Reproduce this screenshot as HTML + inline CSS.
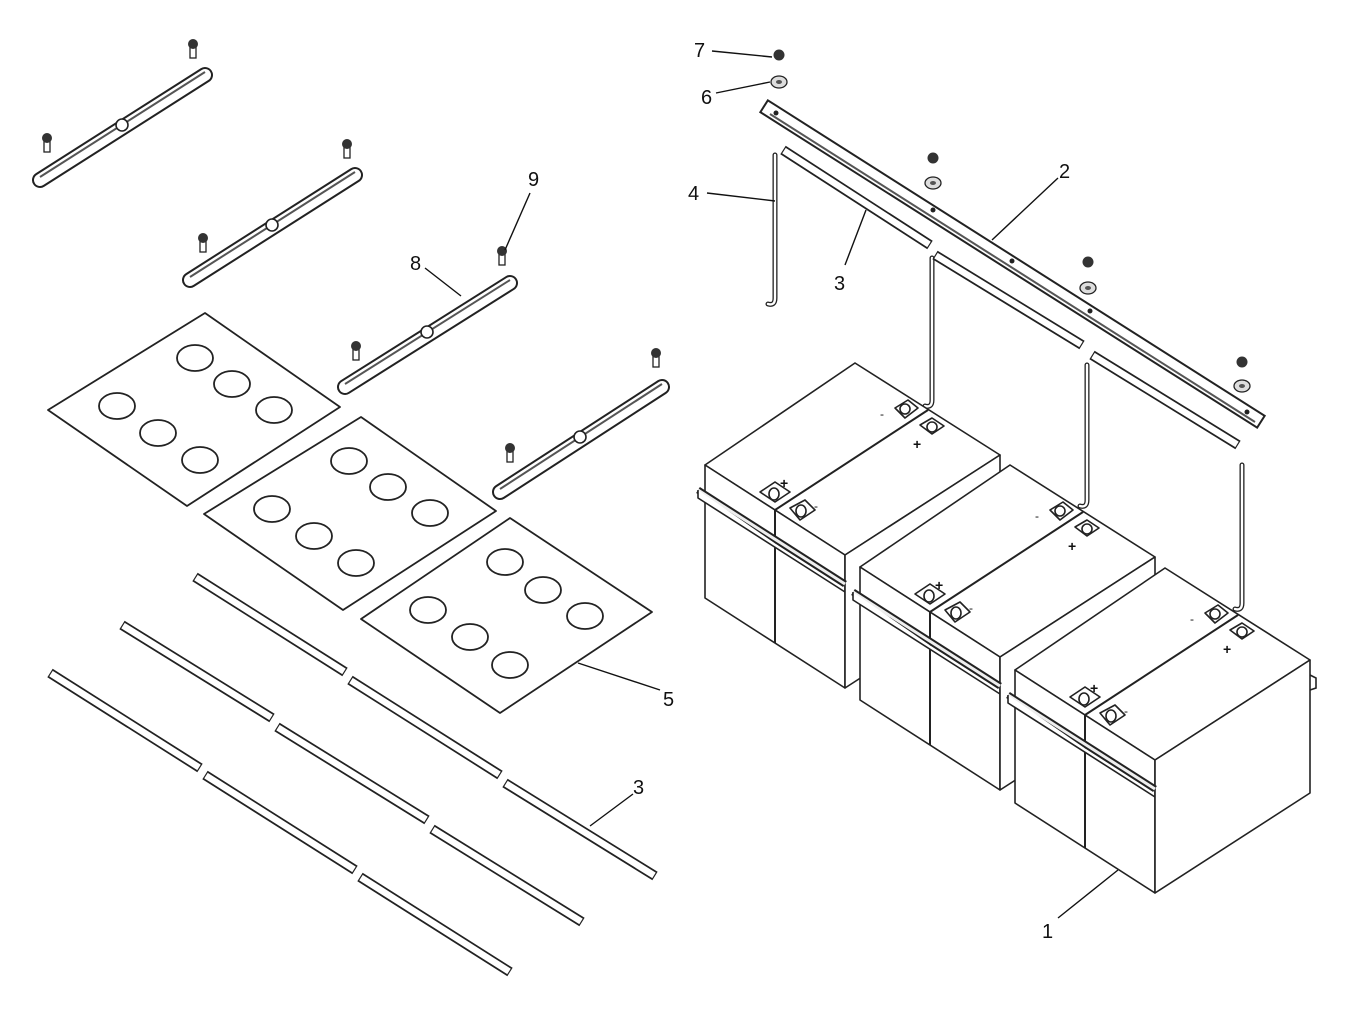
<!DOCTYPE html>
<html><head><meta charset="utf-8"><style>
html,body{margin:0;padding:0;background:#fff;}
svg{display:block;}
text{font-family:"Liberation Sans",sans-serif;font-size:20px;fill:#111;}
</style></head><body>
<svg width="1365" height="1022" viewBox="0 0 1365 1022" xmlns="http://www.w3.org/2000/svg">
<defs>
<g id="bolt"><rect x="-3" y="-2" width="6" height="12" fill="#fff" stroke="#222" stroke-width="1.3"/><circle cx="0" cy="-4" r="5" fill="#333"/></g>
<g id="nut"><circle cx="0" cy="0" r="5.5" fill="#333"/></g>
<g id="washer"><ellipse cx="0" cy="0" rx="8" ry="6" fill="#ddd" stroke="#222" stroke-width="1.3"/><ellipse cx="0" cy="0" rx="3" ry="2" fill="#555"/></g>
<g id="pair" fill="#fff" stroke="#222" stroke-width="1.6" stroke-linejoin="round">
  <!-- near corner (845,555) -->
  <path d="M845,555 L705,465 L855,363 L1000,455 Z"/>
  <path d="M705,465 L705,598 L845,688 L845,555 Z"/>
  <path d="M845,555 L845,688 L1000,588 L1000,455 Z"/>
  <path d="M775,510 L775,643" stroke-width="2"/>
  <path d="M775,510 L928,410" stroke-width="2"/>
  <path d="M698,490 L845,584" stroke-width="7"/>
  <path d="M698,490 L845,584" stroke="#eee" stroke-width="3"/>
  <path d="M698,490 L698,498 L845,592"/>
  <path d="M760,492 L775,482 L790,492 L775,502 Z"/>
  <ellipse cx="774" cy="494" rx="5" ry="6"/>
  <path d="M790,508 L805,500 L815,510 L800,520 Z"/>
  <ellipse cx="801" cy="511" rx="5" ry="6"/>
  <path d="M895,408 L908,400 L918,408 L905,418 Z"/>
  <ellipse cx="905" cy="409" rx="5" ry="5"/>
  <path d="M920,425 L932,418 L944,426 L932,434 Z"/>
  <ellipse cx="932" cy="427" rx="5" ry="5"/>
  <text x="780" y="488" style="font-size:14px;font-weight:bold" stroke="none" fill="#222">+</text>
  <text x="913" y="449" style="font-size:14px;font-weight:bold" stroke="none" fill="#222">+</text>
  <text x="814" y="510" style="font-size:12px" stroke="none" fill="#222">-</text>
  <text x="880" y="418" style="font-size:12px" stroke="none" fill="#222">-</text>
</g>
</defs>
<g fill="none" stroke="#222" stroke-width="1.6" stroke-linejoin="round">

<path d="M40,180 L205,75" stroke="#222" stroke-width="16" stroke-linecap="round"/>
<path d="M40,180 L205,75" stroke="#fff" stroke-width="12" stroke-linecap="round"/>
<path d="M40,177 L205,72" stroke="#555" stroke-width="2"/>
<path d="M190,280 L355,175" stroke="#222" stroke-width="16" stroke-linecap="round"/>
<path d="M190,280 L355,175" stroke="#fff" stroke-width="12" stroke-linecap="round"/>
<path d="M190,277 L355,172" stroke="#555" stroke-width="2"/>
<path d="M345,387 L510,283" stroke="#222" stroke-width="16" stroke-linecap="round"/>
<path d="M345,387 L510,283" stroke="#fff" stroke-width="12" stroke-linecap="round"/>
<path d="M345,384 L510,280" stroke="#555" stroke-width="2"/>
<path d="M500,492 L662,387" stroke="#222" stroke-width="16" stroke-linecap="round"/>
<path d="M500,492 L662,387" stroke="#fff" stroke-width="12" stroke-linecap="round"/>
<path d="M500,489 L662,384" stroke="#555" stroke-width="2"/>
<circle cx="122" cy="125" r="6" fill="#fff"/><circle cx="272" cy="225" r="6" fill="#fff"/>
<circle cx="427" cy="332" r="6" fill="#fff"/><circle cx="580" cy="437" r="6" fill="#fff"/>
</g>
<use href="#bolt" x="193" y="48"/><use href="#bolt" x="47" y="142"/>
<use href="#bolt" x="347" y="148"/><use href="#bolt" x="203" y="242"/>
<use href="#bolt" x="502" y="255"/><use href="#bolt" x="356" y="350"/>
<use href="#bolt" x="656" y="357"/><use href="#bolt" x="510" y="452"/>

<g fill="#fff" stroke="#222" stroke-width="1.8" stroke-linejoin="round">
<path d="M48,410 L205,313 L340,407 L187,506 Z"/>
<path d="M204,514 L361,417 L496,511 L343,610 Z"/>
<path d="M361,619 L510,518 L652,612 L500,713 Z"/>
<g fill="none">
<ellipse cx="195" cy="358" rx="18" ry="13"/><ellipse cx="232" cy="384" rx="18" ry="13"/><ellipse cx="274" cy="410" rx="18" ry="13"/>
<ellipse cx="117" cy="406" rx="18" ry="13"/><ellipse cx="158" cy="433" rx="18" ry="13"/><ellipse cx="200" cy="460" rx="18" ry="13"/>
<ellipse cx="349" cy="461" rx="18" ry="13"/><ellipse cx="388" cy="487" rx="18" ry="13"/><ellipse cx="430" cy="513" rx="18" ry="13"/>
<ellipse cx="272" cy="509" rx="18" ry="13"/><ellipse cx="314" cy="536" rx="18" ry="13"/><ellipse cx="356" cy="563" rx="18" ry="13"/>
<ellipse cx="505" cy="562" rx="18" ry="13"/><ellipse cx="543" cy="590" rx="18" ry="13"/><ellipse cx="585" cy="616" rx="18" ry="13"/>
<ellipse cx="428" cy="610" rx="18" ry="13"/><ellipse cx="470" cy="637" rx="18" ry="13"/><ellipse cx="510" cy="665" rx="18" ry="13"/>
</g>
</g>

<g stroke-linecap="butt">
<g stroke="#222" stroke-width="10">
<path d="M195,577 L345,672"/><path d="M350,680 L500,775"/><path d="M505,783 L655,876"/>
<path d="M122,625 L272,718"/><path d="M277,727 L427,820"/><path d="M432,829 L582,922"/>
<path d="M50,673 L200,768"/><path d="M205,775 L355,870"/><path d="M360,877 L510,972"/>
</g>
<g stroke="#fff" stroke-width="6.5">
<path d="M196,577.6 L344,671.4"/><path d="M351,680.6 L499,774.4"/><path d="M506,783.6 L654,875.4"/>
<path d="M123,625.6 L271,717.4"/><path d="M278,727.6 L426,819.4"/><path d="M433,829.6 L581,921.4"/>
<path d="M51,673.6 L199,767.4"/><path d="M206,775.6 L354,869.4"/><path d="M361,877.6 L509,971.4"/>
</g>
</g>

<g fill="none" stroke="#222" stroke-width="5" stroke-linecap="round">
<path d="M775,155 L775,298 Q775,306 768,304"/><path d="M932,258 L932,400 Q932,408 925,406"/>
<path d="M1087,365 L1087,500 Q1087,508 1080,506"/><path d="M1242,465 L1242,603 Q1242,611 1235,609"/>
</g>
<g fill="none" stroke="#fff" stroke-width="2.4" stroke-linecap="round">
<path d="M775,155 L775,298 Q775,306 768,304"/><path d="M932,258 L932,400 Q932,408 925,406"/>
<path d="M1087,365 L1087,500 Q1087,508 1080,506"/><path d="M1242,465 L1242,603 Q1242,611 1235,609"/>
</g>

<g stroke="#222" stroke-width="10"><path d="M783,150 L930,245"/><path d="M935,255 L1082,345"/><path d="M1092,355 L1238,445"/></g>
<g stroke="#fff" stroke-width="6.5"><path d="M784,150.6 L929,244.4"/><path d="M936,255.6 L1081,344.4"/><path d="M1093,355.6 L1237,444.4"/></g>

<path d="M770,110 L1255,418" stroke="#222" stroke-width="16" stroke-linecap="square"/>
<path d="M770,110 L1255,418" stroke="#fff" stroke-width="12" stroke-linecap="square"/>
<path d="M770,114 L1255,422" stroke="#555" stroke-width="2"/>
<circle cx="776" cy="113" r="2.5" fill="#222"/><circle cx="933" cy="210" r="2.5" fill="#222"/>
<circle cx="1012" cy="261" r="2.5" fill="#222"/><circle cx="1090" cy="311" r="2.5" fill="#222"/><circle cx="1247" cy="412" r="2.5" fill="#222"/>
<use href="#nut" x="779" y="55"/><use href="#washer" x="779" y="82"/>
<use href="#nut" x="933" y="158"/><use href="#washer" x="933" y="183"/>
<use href="#nut" x="1088" y="262"/><use href="#washer" x="1088" y="288"/>
<use href="#nut" x="1242" y="362"/><use href="#washer" x="1242" y="386"/>

<use href="#pair"/>
<use href="#pair" x="155" y="102"/>
<use href="#pair" x="310" y="205"/>
<path d="M1310,675 L1316,678 L1316,688 L1310,690" fill="none" stroke="#222" stroke-width="1.6"/>

<g stroke="#111" stroke-width="1.4">
<line x1="712" y1="51" x2="772" y2="57"/>
<line x1="716" y1="93" x2="770" y2="82"/>
<line x1="707" y1="193" x2="775" y2="201"/>
<line x1="845" y1="265" x2="866" y2="210"/>
<line x1="1058" y1="178" x2="992" y2="240"/>
<line x1="530" y1="193" x2="505" y2="250"/>
<line x1="425" y1="268" x2="461" y2="296"/>
<line x1="660" y1="690" x2="578" y2="663"/>
<line x1="633" y1="794" x2="590" y2="826"/>
<line x1="1058" y1="918" x2="1118" y2="870"/>
</g>
<text x="694" y="57">7</text>
<text x="701" y="104">6</text>
<text x="688" y="200">4</text>
<text x="834" y="290">3</text>
<text x="1059" y="178">2</text>
<text x="528" y="186">9</text>
<text x="410" y="270">8</text>
<text x="663" y="706">5</text>
<text x="633" y="794">3</text>
<text x="1042" y="938">1</text>
</svg>
</body></html>
